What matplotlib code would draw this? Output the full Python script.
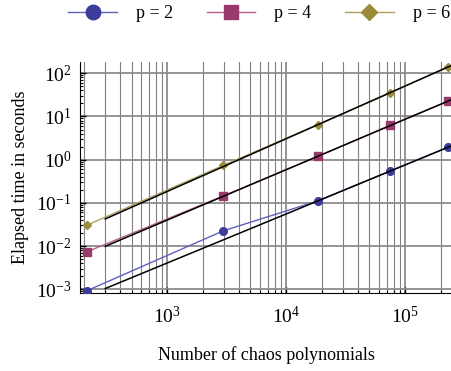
import numpy as np
import matplotlib
matplotlib.use("Agg")
import matplotlib.pyplot as plt
from matplotlib.ticker import LogLocator, NullFormatter

plt.rcParams["font.family"] = ["Liberation Serif", "DejaVu Serif"]
plt.rcParams["mathtext.fontset"] = "stix"

# number of chaos polynomials (shared by all orders)
n_poly = [211, 2960, 18450, 74000, 231000]

# elapsed time in seconds
t_p2 = [0.00093, 0.0226, 0.111, 0.54, 1.95]
t_p4 = [0.0074, 0.145, 1.19, 6.2, 22.6]
t_p6 = [0.0306, 0.74, 6.5, 34.7, 142.0]

labels = ["p = 2", "p = 4", "p = 6"]
colors = ["#3c3c9c", "#993a6c", "#9a8a3a"]
line_colors = ["#6060c0", "#b8608c", "#b0a060"]
markers = ["o", "s", "D"]
msizes = [5.5, 5.5, 4.5]

fig = plt.figure(figsize=(4.52, 3.71), dpi=100)
ax = fig.add_axes([80 / 452, 0.2094, 372 / 452, 0.6243])

x = np.array(n_poly, dtype=float)
handles = []
for t, lab, c, lc, m, ms in zip([t_p2, t_p4, t_p6], labels, colors, line_colors, markers, msizes):
    t = np.array(t)
    h, = ax.plot(x, t, color=lc, lw=1.0, marker=m, ms=ms, mfc=c, mec=c, label=lab, zorder=3)
    handles.append(h)
    # power-law fit over the three largest problems
    k, b = np.polyfit(np.log10(x[2:]), np.log10(t[2:]), 1)
    xf = np.array([300.0, 2.6e5])
    ax.plot(xf, 10 ** (k * np.log10(xf) + b), color="black", lw=1.1, zorder=4)

ax.set_xscale("log")
ax.set_yscale("log")
ax.set_xlim(184, 2.48e5)
ax.set_ylim(8.07e-4, 185.6)

ax.xaxis.set_minor_locator(LogLocator(base=10, subs=np.arange(2, 10), numticks=20))
ax.yaxis.set_minor_locator(LogLocator(base=10, subs=np.arange(2, 10), numticks=20))
ax.xaxis.set_minor_formatter(NullFormatter())
ax.yaxis.set_minor_formatter(NullFormatter())
ax.set_yticks([1e-3, 1e-2, 1e-1, 1e0, 1e1, 1e2])

ax.grid(True, which="major", color="#8c8c8c", lw=1.3)
ax.grid(True, which="minor", axis="x", color="#808080", lw=0.8)
ax.set_axisbelow(True)

ax.tick_params(which="both", direction="in", labelsize=14, color="black")
ax.tick_params(which="major", length=4, width=1)
ax.tick_params(which="minor", length=2.5, width=0.8)
ax.tick_params(axis="x", pad=9)
ax.tick_params(axis="y", pad=6)
ax.spines["top"].set_visible(False)
ax.spines["right"].set_visible(False)

ax.set_xlabel("Number of chaos polynomials", fontsize=13, labelpad=14)
ax.set_ylabel("Elapsed time in seconds", fontsize=13, labelpad=5)

fig.legend(handles=handles, loc="center", bbox_to_anchor=(259 / 452, 1 - 14 / 371),
           ncol=3, frameon=False, fontsize=13, markerscale=1.9,
           handlelength=2.7, handletextpad=1.05, columnspacing=1.85)

fig.savefig("out.png", dpi=100)
